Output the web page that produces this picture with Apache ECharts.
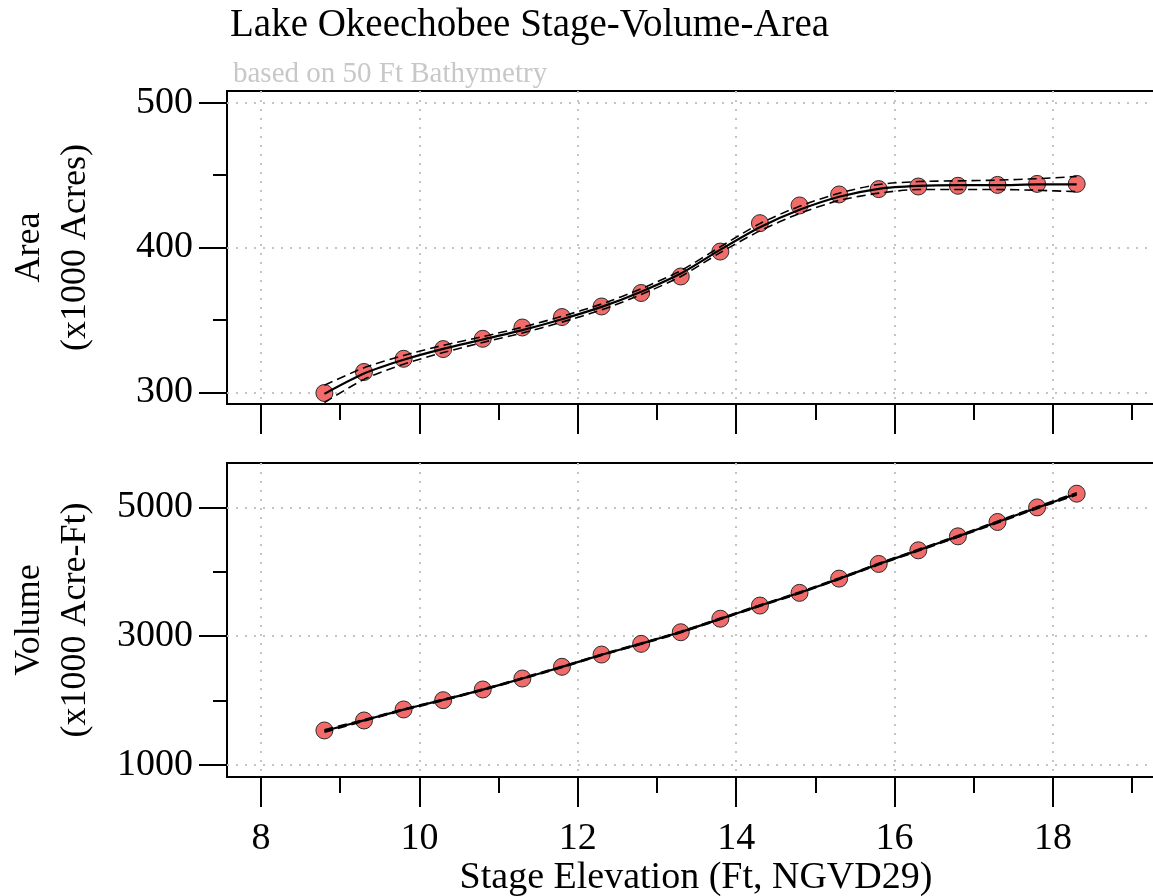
<!DOCTYPE html>
<html>
<head>
<meta charset="utf-8">
<script src="https://cdn.jsdelivr.net/npm/echarts@6/dist/echarts.min.js"></script>
<style>
  html, body { margin: 0; padding: 0; background: #fff; }
  #chart { width: 1153px; height: 896px; }
</style>
</head>
<body>
<div id="chart"></div>
<script>
// Stage elevation (ft, NGVD29) of each surveyed level
const stage = [8.8, 9.3, 9.8, 10.3, 10.8, 11.3, 11.8, 12.3, 12.8, 13.3,
               13.8, 14.3, 14.8, 15.3, 15.8, 16.3, 16.8, 17.3, 17.8, 18.3];

// Lake surface area (x1000 acres): observed, fitted curve and its band
const areaObs = [299.6, 314.1, 323.2, 329.9, 337.0, 344.8, 352.0, 359.3, 368.6, 380.0,
                 397.2, 416.8, 429.0, 436.6, 440.3, 442.1, 442.6, 443.2, 443.9, 443.9];
const areaFit = [299, 313, 322.5, 330, 336.5, 343, 350.5, 359, 369.5, 382,
                 398.5, 414, 426, 435, 440.5, 442.5, 443, 443, 443.5, 443.5];
const areaLo  = [293, 309, 319.5, 327.5, 334.5, 341, 348.5, 357, 367.5, 380,
                 396.5, 411.5, 423.5, 432.5, 437.5, 440, 440, 440, 439.5, 438.5];
const areaHi  = [305, 317, 325.5, 332.5, 338.5, 345, 352.5, 361, 371.5, 384,
                 400.5, 416.5, 428.5, 437.5, 443.5, 445.5, 446, 446.5, 447.5, 449];

// Lake storage volume (x1000 acre-ft): observed, fitted curve and its band
const volumeObs = [1538, 1693, 1864, 2008, 2174, 2344, 2526, 2716, 2882, 3062,
                   3272, 3476, 3673, 3894, 4122, 4333, 4550, 4773, 4999, 5212];
const volumeFit = [1530, 1695, 1862, 2012, 2172, 2345, 2524, 2712, 2885, 3065,
                   3270, 3475, 3675, 3893, 4120, 4335, 4550, 4772, 4995, 5210];
const volumeLo  = [1510, 1683, 1852, 2002, 2162, 2335, 2514, 2702, 2875, 3054,
                   3259, 3464, 3664, 3882, 4108, 4322, 4537, 4758, 4980, 5192];
const volumeHi  = [1550, 1707, 1872, 2022, 2182, 2355, 2534, 2722, 2895, 3076,
                   3281, 3486, 3686, 3904, 4132, 4348, 4563, 4786, 5010, 5228];

// Tick positions
const stageMajor = [8, 10, 12, 14, 16, 18];
const stageMinor = [9, 11, 13, 15, 17, 19];
const areaMajor = [300, 400, 500];
const areaMinor = [350, 450];
const volumeMajor = [1000, 3000, 5000];
const volumeMinor = [2000, 4000];

const FONT = "'Liberation Serif', 'Times New Roman', serif";
const X_RANGE = [7.57, 19.63];
const AREA_RANGE = [292, 508];
const VOLUME_RANGE = [816, 5688];

const dotted = { color: '#c4c4c4', width: 2, type: [2, 7] };

function pairs(ys) { return stage.map((x, i) => [x, ys[i]]); }

function xAxisPair(gridIndex, withLabels) {
  const major = {
    type: 'value', gridIndex, position: 'bottom', min: X_RANGE[0], max: X_RANGE[1],
    axisLine: { show: false },
    axisTick: { show: true, inside: false, length: 30, customValues: stageMajor,
                lineStyle: { color: '#000', width: 2 } },
    axisLabel: withLabels
      ? { show: true, customValues: stageMajor, margin: 43, color: '#000',
          fontFamily: FONT, fontSize: 38, formatter: (v) => String(v) }
      : { show: false },
    splitLine: { show: true, lineStyle: dotted }
  };
  if (withLabels) {
    major.name = 'Stage Elevation (Ft, NGVD29)';
    major.nameLocation = 'middle';
    major.nameGap = 71;
    major.nameTextStyle = { color: '#000', fontFamily: FONT, fontSize: 38,
                            padding: [0, 17, 0, 0], verticalAlign: 'top' };
  }
  const minor = {
    type: 'value', gridIndex, position: 'bottom', min: X_RANGE[0], max: X_RANGE[1],
    axisLine: { show: false },
    axisTick: { show: true, length: 16, customValues: stageMinor,
                lineStyle: { color: '#000', width: 2 } },
    axisLabel: { show: false },
    splitLine: { show: false }
  };
  return [major, minor];
}

function yAxisPair(gridIndex, range, majorVals, minorVals, name) {
  const major = {
    type: 'value', gridIndex, position: 'left', min: range[0], max: range[1],
    axisLine: { show: false },
    axisTick: { show: true, length: 28, customValues: majorVals,
                lineStyle: { color: '#000', width: 2 } },
    axisLabel: { show: true, customValues: majorVals, margin: 34, color: '#000',
                 fontFamily: FONT, fontSize: 38, formatter: (v) => String(v) },
    splitLine: { show: true, lineStyle: dotted },
    name, nameLocation: 'middle', nameRotate: 90, nameGap: 128,
    nameTextStyle: { color: '#000', fontFamily: FONT, fontSize: 36, lineHeight: 46 }
  };
  const minor = {
    type: 'value', gridIndex, position: 'left', min: range[0], max: range[1],
    axisLine: { show: false },
    axisTick: { show: true, length: 14, customValues: minorVals,
                lineStyle: { color: '#000', width: 2 } },
    axisLabel: { show: false },
    splitLine: { show: false }
  };
  return [major, minor];
}

function pointSeries(xi, yi, ys) {
  return {
    type: 'scatter', xAxisIndex: xi, yAxisIndex: yi, data: pairs(ys),
    symbol: 'circle', symbolSize: 17, z: 2,
    itemStyle: { color: '#f26b6b', borderColor: '#2a2a2a', borderWidth: 1, opacity: 1 }
  };
}

function lineSeries(xi, yi, ys, dashed) {
  return {
    type: 'line', xAxisIndex: xi, yAxisIndex: yi, data: pairs(ys),
    showSymbol: false, smooth: 0.25, z: 3, silent: true,
    lineStyle: dashed
      ? { color: '#000', width: 1.6, type: [9, 5] }
      : { color: '#000', width: 2.2 }
  };
}

const chart = echarts.init(document.getElementById('chart'), null, { renderer: 'canvas' });

chart.setOption({
  animation: false,
  backgroundColor: '#fff',
  title: [
    { text: 'Lake Okeechobee Stage-Volume-Area', left: 225, top: 1,
      textStyle: { color: '#000', fontFamily: FONT, fontSize: 39, fontWeight: 'normal' } },
    { text: 'based on 50 Ft Bathymetry', left: 228, top: 55,
      textStyle: { color: '#c8c8c8', fontFamily: FONT, fontSize: 29, fontWeight: 'normal' } }
  ],
  grid: [
    { left: 227, top: 91, width: 955, height: 313, show: true, outerBoundsMode: 'none',
      containLabel: false, borderColor: '#000', borderWidth: 2, backgroundColor: 'transparent' },
    { left: 227, top: 463, width: 955, height: 314, show: true, outerBoundsMode: 'none',
      containLabel: false, borderColor: '#000', borderWidth: 2, backgroundColor: 'transparent' }
  ],
  xAxis: [...xAxisPair(0, false), ...xAxisPair(1, true)],
  yAxis: [
    ...yAxisPair(0, AREA_RANGE, areaMajor, areaMinor, 'Area\n(x1000 Acres)'),
    ...yAxisPair(1, VOLUME_RANGE, volumeMajor, volumeMinor, 'Volume\n(x1000 Acre-Ft)')
  ],
  series: [
    pointSeries(0, 0, areaObs),
    lineSeries(0, 0, areaFit, false),
    lineSeries(0, 0, areaLo, true),
    lineSeries(0, 0, areaHi, true),
    pointSeries(2, 2, volumeObs),
    lineSeries(2, 2, volumeFit, false),
    lineSeries(2, 2, volumeLo, true),
    lineSeries(2, 2, volumeHi, true)
  ]
});
</script>
</body>
</html>
